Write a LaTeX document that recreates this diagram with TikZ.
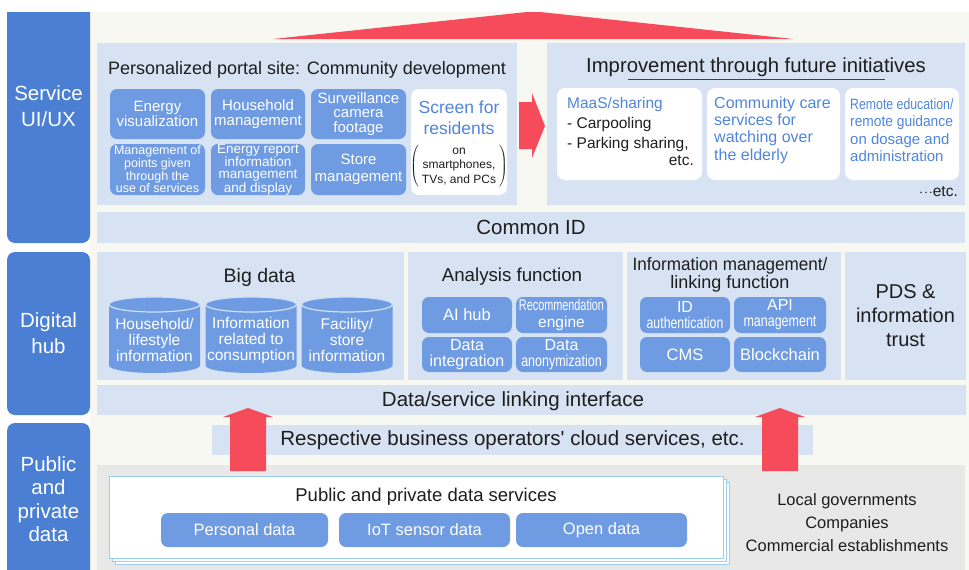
\documentclass[tikz,border=0pt]{standalone}
\usepackage{fontspec}
\setmainfont{Liberation Sans}
\usepackage{graphicx}

\definecolor{sidebl}{HTML}{4A7FD4}
\definecolor{boxbl}{HTML}{6E9BE2}
\definecolor{panelbl}{HTML}{D7E3F3}
\definecolor{creambg}{HTML}{F8F8F2}
\definecolor{graybg}{HTML}{E8E8E8}
\definecolor{arrred}{HTML}{F54B5A}
\definecolor{txtbl}{HTML}{4F86DC}
\definecolor{stackbl}{HTML}{9CCFEF}
\definecolor{cylrim}{HTML}{D3E1F6}
\definecolor{ink}{HTML}{1E1E1E}

\newcommand{\fsz}[2]{\fontsize{#1}{#2}\selectfont}
\newcommand{\squeezed}[2][0.8]{\scalebox{#1}[1]{#2}}

\begin{document}
\begin{tikzpicture}[x=1pt,y=-1pt]
        \tikzset{
            sidebox/.style={fill=sidebl,rounded corners=8pt,inner sep=0pt},
            sidelabel/.style={text=white,align=center,font=\fsz{20.5}{26}},
            panel/.style={fill=panelbl,inner sep=0pt},
            subbox/.style={fill=boxbl,rounded corners=7pt,text=white,align=center,inner sep=0pt,font=\fsz{15}{15.5}},
            whitebox/.style={fill=white,rounded corners=8pt,inner sep=0pt},
            title/.style={text=ink,align=center,inner sep=0pt},
            redfill/.style={fill=arrred}
        }
        \useasboundingbox (0,0) rectangle (969,570);
        \fill[creambg] (90,12) rectangle (969,570);

        \node[sidebox,minimum width=83,minimum height=253] (svcbox) at (48.5,116.5) {};
        \node[sidelabel] (svc) at (48.5,106) {Service\\UI/UX};
        \node[sidebox,sidelabel,minimum width=83,minimum height=163] (hub) at (48.5,333.5) {Digital\\hub};
        \node[sidebox,minimum width=83,minimum height=170] (pubbox) at (48.5,508) {};
        \node[sidelabel,font=\fsz{20.5}{23.5}] (pub) at (48.5,499) {Public\\and\\private\\data};

        \fill[redfill] (273,39) -- (527,12) -- (540,12) -- (793,39) -- cycle;

        \node[panel,minimum width=420,minimum height=162] (portal) at (307,124) {};
        \node[panel,minimum width=418,minimum height=162] (future) at (756,124) {};
        \node[panel,title,minimum width=868,minimum height=31,font=\fsz{20.5}{24}] (cid) at (531,227.5) {Common ID};

        \node[title,font=\fsz{18}{22}] (portaltitle) at (307,70) {Personalized portal site: Community development};
        \node[subbox,minimum width=95,minimum height=50] (energy) at (157.5,114) {Energy\\visualization};
        \node[subbox,minimum width=94,minimum height=50] (household) at (258,114) {Household\\management};
        \node[subbox,minimum width=95,minimum height=50,font=\fsz{15}{14.5}] (surveil) at (358.5,114) {Surveillance\\camera\\footage};
        \node[subbox,minimum width=95,minimum height=51,font=\fsz{12.5}{11.5}] (points) at (157.5,169.5) {Management of\\points given\\through the\\use of services};
        \node[subbox,minimum width=94,minimum height=51,font=\fsz{13.5}{12}] (report) at (258,169.5) {Energy report\\information\\management\\and display};
        \node[subbox,minimum width=95,minimum height=51,font=\fsz{15}{16.5}] (store) at (358.5,169.5) {Store\\management};
        \node[whitebox,minimum width=96,minimum height=106] (screen) at (459,142) {};
        \node[title,text=txtbl,font=\fsz{17.5}{21}] (screentitle) at (459,118) {Screen for\\residents};
        \node[title,font=\fsz{12}{14.5}] (devices) at (459,166) {\setlength{\tabcolsep}{3pt}$\left(\begin{tabular}{c}on\\smartphones,\\TVs, and PCs\end{tabular}\right)$};

        \fill[redfill] (519,102) -- (532,102) -- (532,93) -- (545,126) -- (532,158) -- (532,149) -- (519,149) -- cycle;

        \node[title,font=\fsz{20.3}{24}] (futuretitle) at (756,67) {Improvement through future initiatives};
        \draw[ink!85,line width=0.8pt] (628,79) -- (885,79);
        \node[whitebox,minimum width=145,minimum height=92] (maas) at (629.5,134) {};
        \node[whitebox,minimum width=133,minimum height=92] (care) at (773.5,134) {};
        \node[whitebox,minimum width=114,minimum height=92] (remote) at (902,134) {};
        \node[title,anchor=west,align=left,font=\fsz{15.5}{20}] (maastxt) at (567,124) {\textcolor{txtbl}{MaaS/sharing}\\- Carpooling\\- Parking sharing,};
        \node[title,anchor=base east,font=\fsz{15.5}{20}] (maasetc) at (694,165) {etc.};
        \node[title,anchor=west,align=left,text=txtbl,font=\fsz{16}{17.3}] (caretxt) at (714,130) {Community care\\services for\\watching over\\the elderly};
        \node[title,anchor=west,align=left,text=txtbl,font=\fsz{15}{17.3}] (remotetxt) at (850,130) {\squeezed[0.82]{Remote education/}\\\squeezed[0.92]{remote guidance}\\on dosage and\\administration};
        \node[title,anchor=east,font=\fsz{15.5}{18}] (moreetc) at (958,192) {$\cdot\!\cdot\!\cdot$etc.};

        \node[panel,minimum width=307,minimum height=128] (bigdata) at (250.5,316) {};
        \node[panel,minimum width=215,minimum height=128] (analysis) at (515.5,316) {};
        \node[panel,minimum width=214,minimum height=128] (infomgmt) at (734,316) {};
        \node[panel,title,minimum width=121,minimum height=128,font=\fsz{20}{24}] (pds) at (905.5,316) {PDS \&\\information\\trust};

        \node[title,font=\fsz{19.5}{22}] (bigtitle) at (259.5,277) {Big data};
        \foreach \cx/\nm/\txt in {154.5/house/{Household/\\lifestyle\\information},251/consume/{Information\\related to\\consumption},347/facility/{Facility/\\store\\information}}{
                \fill[boxbl] (\cx-45.5,304.5) -- (\cx-45.5,365.5) arc[start angle=180,end angle=0,x radius=45.5,y radius=7.5] -- (\cx+45.5,304.5) arc[start angle=0,end angle=-180,x radius=45.5,y radius=7.5] -- cycle;
                \draw[cylrim,line width=1.2pt] (\cx,304.5) ellipse[x radius=45.5,y radius=7.5];
                \node[title,text=white,font=\fsz{15.5}{16}] (\nm) at (\cx,340) {\txt};
            }

        \node[title,font=\fsz{18.7}{22}] (antitle) at (512,277) {Analysis function};
        \node[subbox,minimum width=90,minimum height=36,font=\fsz{16.5}{16}] (aihub) at (467,315) {AI hub};
        \node[subbox,minimum width=91,minimum height=36,font=\fsz{15.5}{17}] (recengine) at (561.5,315) {\squeezed[0.7]{Recommendation}\\engine};
        \node[subbox,minimum width=90,minimum height=35,font=\fsz{16}{16}] (dataint) at (467,354.5) {Data\\integration};
        \node[subbox,minimum width=91,minimum height=35,font=\fsz{16}{16}] (dataanon) at (561.5,354.5) {Data\\\squeezed[0.78]{anonymization}};

        \node[title,font=\fsz{18}{16.5}] (imtitle) at (730,275) {\squeezed[0.95]{Information management/}\\linking function};
        \node[subbox,minimum width=90,minimum height=36,font=\fsz{16}{16}] (idauth) at (685,315) {ID\\\squeezed[0.77]{authentication}};
        \node[subbox,minimum width=92,minimum height=36,font=\fsz{16}{16}] (apimgmt) at (780,315) {API\\\squeezed[0.78]{management}};
        \node[subbox,minimum width=90,minimum height=35,font=\fsz{16.5}{16}] (cms) at (685,354.5) {CMS};
        \node[subbox,minimum width=92,minimum height=35,font=\fsz{16.5}{16}] (blockchain) at (780,354.5) {Blockchain};

        \node[panel,minimum width=869,minimum height=30] (linking) at (531.5,400) {};
        \node[title,font=\fsz{20.5}{24}] (linktxt) at (513,401) {Data/service linking interface};

        \fill[graybg] (97,465) rectangle (965,570);
        \node[panel,title,minimum width=601,minimum height=30,font=\fsz{20.5}{24}] (cloud) at (512.5,440) {Respective business operators\textquotesingle\ cloud services, etc.};

        \foreach \ax in {248,780}{
                \fill[redfill] (\ax-18,471) -- (\ax-18,417) -- (\ax-25,417) -- (\ax,408) -- (\ax+25,417) -- (\ax+18,417) -- (\ax+18,471) -- cycle;
            }

        \foreach \d in {6,3}{
                \draw[stackbl,fill=white,line width=1pt] (109+\d,476+\d) rectangle (723+\d,558+\d);
            }
        \node[draw=stackbl,fill=white,line width=1pt,inner sep=0pt,minimum width=614,minimum height=82] (dataserv) at (416,517) {};
        \node[title,font=\fsz{18.5}{22}] (dstitle) at (426,497) {Public and private data services};
        \node[subbox,minimum width=167,minimum height=34,font=\fsz{16.5}{18}] (personal) at (244.5,530) {Personal data};
        \node[subbox,minimum width=171,minimum height=34,font=\fsz{16.5}{18}] (iot) at (424.5,530) {IoT sensor data};
        \node[subbox,minimum width=171,minimum height=34,font=\fsz{16.5}{18}] (opendata) at (601.5,530) {Open data};

        \node[title,font=\fsz{16.5}{23}] (actors) at (847,523) {Local governments\\Companies\\Commercial establishments};

        \fill[white] (0,0) rectangle (969,12);

    \end{tikzpicture}
\end{document}
